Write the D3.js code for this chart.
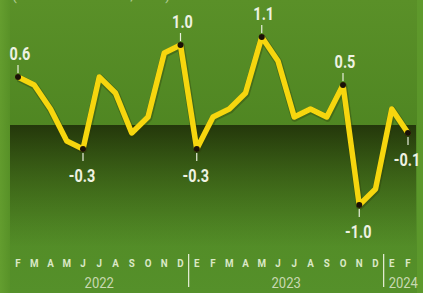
<!DOCTYPE html>
<html><head><meta charset="utf-8">
<script src="https://cdn.jsdelivr.net/npm/d3@7"></script>
<style>
html,body{margin:0;padding:0;background:#528a22;overflow:hidden;}
svg{display:block;}
</style></head>
<body><svg id="c" width="423" height="293"></svg>
<script>
const months = ["F","M","A","M","J","J","A","S","O","N","D","E","F","M","A","M","J","J","A","S","O","N","D","E","F"];
const values = [0.6,0.5,0.2,-0.2,-0.3,0.6,0.4,-0.1,0.1,0.9,1.0,-0.3,0.1,0.2,0.4,1.1,0.8,0.1,0.2,0.1,0.5,-1.0,-0.8,0.2,-0.1];
const yearLabels = ["2022","2023","2024"];
const yearFirst = [0,11,23];
const yearLast = [10,22,24];
const labeledIdx = [0,4,10,11,15,20,21,24];
const labelSide = ["up","down","up","down","up","up","down","down"];
const subtitle = "(variación mensual, en %)";

const W=423,H=293;
const svg=d3.select("#c");
const defs=svg.append("defs");
const bg=defs.append("linearGradient").attr("id","bg").attr("x1",0).attr("y1",0).attr("x2",0).attr("y2",1);
bg.append("stop").attr("offset","0%").attr("stop-color","#5a9028");
bg.append("stop").attr("offset","45%").attr("stop-color","#4f8622");
bg.append("stop").attr("offset","100%").attr("stop-color","#55902a");
const dk=defs.append("linearGradient").attr("id","dk").attr("x1",0).attr("y1",0).attr("x2",0).attr("y2",1);
dk.append("stop").attr("offset","0%").attr("stop-color","#1a2606").attr("stop-opacity",0.82);
dk.append("stop").attr("offset","45%").attr("stop-color","#243808").attr("stop-opacity",0.45);
dk.append("stop").attr("offset","100%").attr("stop-color","#2c4a0c").attr("stop-opacity",0);
const side=defs.append("linearGradient").attr("id","side").attr("x1",0).attr("y1",0).attr("x2",1).attr("y2",0);
side.append("stop").attr("offset","0%").attr("stop-color","#6aa432");
side.append("stop").attr("offset","100%").attr("stop-color","#5a9428");

svg.append("rect").attr("width",W).attr("height",H).attr("fill","url(#bg)");
svg.append("rect").attr("x",0).attr("y",0).attr("width",10).attr("height",H).attr("fill","url(#side)").attr("opacity",0.7);
svg.append("rect").attr("x",417).attr("y",0).attr("width",6).attr("height",H).attr("fill","#62a02e").attr("opacity",0.6);

const x=d3.scalePoint().domain(d3.range(months.length)).range([18,408]);
const y=d3.scaleLinear().domain([-1,1.1]).range([205,37]);
const step=x.step();

// negative zone
svg.append("rect").attr("x",10).attr("y",y(0)).attr("width",406).attr("height",122).attr("fill","url(#dk)");

// subtitle (clipped at top, as in the reference)
svg.append("text").attr("x",12).attr("y",0).attr("font-family","Roboto, sans-serif").attr("font-size",14)
  .attr("fill","#d6e4c0").attr("opacity",0.7).text(subtitle);

const line=d3.line().x((d,i)=>x(i)).y(d=>y(d));
svg.append("path").datum(values).attr("d",line).attr("fill","none")
  .attr("stroke","#2b3a08").attr("stroke-opacity",0.35).attr("stroke-width",7.5).attr("stroke-linejoin","round")
  .attr("transform","translate(0.5,1)");
svg.append("path").datum(values).attr("d",line).attr("fill","none")
  .attr("stroke","#f6d60e").attr("stroke-width",5.5).attr("stroke-linejoin","round").attr("stroke-linecap","round");

const lab=svg.append("g");
labeledIdx.forEach((idx,k)=>{
  const px=x(idx),py=y(values[idx]);
  const up=labelSide[k]==="up";
  lab.append("line").attr("x1",px).attr("x2",px)
    .attr("y1",up?py-4:py+4).attr("y2",up?py-12:py+12)
    .attr("stroke","#e8efdc").attr("stroke-width",1.2);
  lab.append("circle").attr("cx",px).attr("cy",py).attr("r",3).attr("fill","#1a1208");
  const v=values[idx];
  const txt=(v<0?"-":"")+Math.abs(v).toFixed(1);
  const ty=up?py-17:py+33;
  lab.append("text").attr("transform",`translate(${px+ (up?2:-1)},${ty}) scale(0.76,1)`)
    .attr("text-anchor","middle").attr("font-family","Roboto, sans-serif").attr("font-weight","bold")
    .attr("font-size",19).attr("fill","#eef2e2").text(txt);
});

// month axis
const ax=svg.append("g");
months.forEach((m,i)=>{
  ax.append("text").attr("transform",`translate(${x(i)},${267}) scale(0.85,1)`).attr("text-anchor","middle")
    .attr("font-family","Roboto, sans-serif").attr("font-weight","bold").attr("font-size",11.5)
    .attr("fill","#dbe8c6").text(m);
});
yearFirst.forEach((f,k)=>{
  if(k>0){
    const sx=x(f)-step/2;
    ax.append("line").attr("x1",sx).attr("x2",sx).attr("y1",254).attr("y2",287)
      .attr("stroke","#e0ead0").attr("stroke-width",1.3);
  }
  const last=k===yearFirst.length-1;
  const cx=last? x(f)-step/2+5 : (x(f)+x(yearLast[k]))/2;
  ax.append("text").attr("transform",`translate(${cx},${288}) scale(0.9,1)`)
    .attr("text-anchor",last?"start":"middle")
    .attr("font-family","Roboto, sans-serif").attr("font-size",14.5)
    .attr("fill","#c9d9b2").text(yearLabels[k]);
});
</script></body></html>
